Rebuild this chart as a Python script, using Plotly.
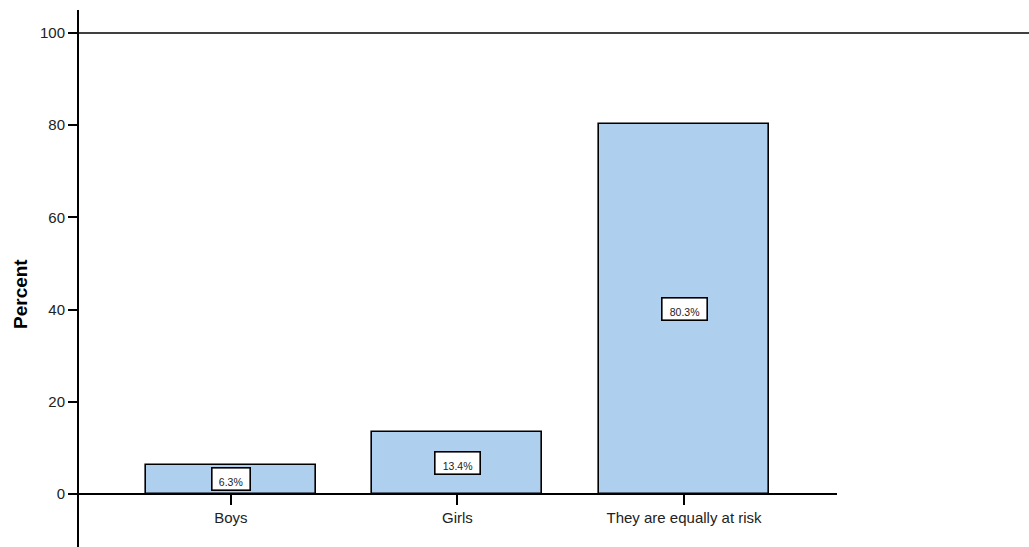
import plotly.graph_objects as go

categories = ["Boys", "Girls", "They are equally at risk"]
percents = [6.3, 13.4, 80.3]
labels = ["6.3%", "13.4%", "80.3%"]
y_ticks = [0, 20, 40, 60, 80, 100]

Y_MIN, Y_MAX = -11.5, 105.0
X_MIN, X_MAX = -0.67, 2.675

BAR_FILL = "#AECFEE"
FONT = "Liberation Sans, Arial, sans-serif"

fig = go.Figure()
fig.add_trace(go.Bar(
    x=categories,
    y=percents,
    width=0.75,
    marker=dict(color=BAR_FILL, line=dict(color="black", width=1.6)),
    hoverinfo="skip",
))

# boxed value labels at mid-height of each bar
for cat, val, txt in zip(categories, percents, labels):
    fig.add_annotation(
        x=cat, y=val / 2, xref="x", yref="y",
        text=txt, showarrow=False,
        font=dict(family=FONT, size=10.5, color="#222"),
        bgcolor="white", bordercolor="black", borderwidth=1.6,
        borderpad=2, width=7.6 * len(txt) + 2, height=17,
        align="center", valign="bottom",
    )

# y-axis title
fig.add_annotation(
    x=20, xref="paper", xanchor="center",
    y=0.5, yref="paper", yanchor="middle",
    text="<b>Percent</b>", textangle=-90, showarrow=False,
    font=dict(family=FONT, size=19, color="black"),
)

# top reference line at 100, running to the right edge of the page
fig.add_shape(type="line", xref="paper", yref="y",
              x0=0, x1=(1029 - 79) / (1029 - 79 - 192), y0=100, y1=100,
              line=dict(color="black", width=1.5))

zero_pos = (0 - Y_MIN) / (Y_MAX - Y_MIN)

fig.update_layout(
    width=1029, height=547,
    margin=dict(l=79, r=192, t=10, b=0),
    paper_bgcolor="white", plot_bgcolor="white",
    showlegend=False,
    bargap=0,
    font=dict(family=FONT, color="black"),
    xaxis=dict(
        type="category", range=[X_MIN, X_MAX],
        anchor="free", position=zero_pos,
        showline=True, linecolor="black", linewidth=2,
        ticks="outside", ticklen=10, tickwidth=1.6, tickcolor="black",
        tickfont=dict(family=FONT, size=15, color="#222"),
        showgrid=False, zeroline=False, fixedrange=True,
    ),
    yaxis=dict(
        range=[Y_MIN, Y_MAX],
        tickmode="array", tickvals=y_ticks, ticktext=[str(v) for v in y_ticks],
        showline=True, linecolor="black", linewidth=2,
        ticks="outside", ticklen=9, tickwidth=2, tickcolor="black",
        tickfont=dict(family=FONT, size=15, color="#222"),
        showgrid=False, zeroline=False, fixedrange=True,
    ),
)

# place the y-axis title by pixel position
fig.layout.annotations[-1].update(x=(20 - 79) / (1029 - 79 - 192),
                                  y=(547 - 294) / (547 - 10))

fig.write_html("out.html")
